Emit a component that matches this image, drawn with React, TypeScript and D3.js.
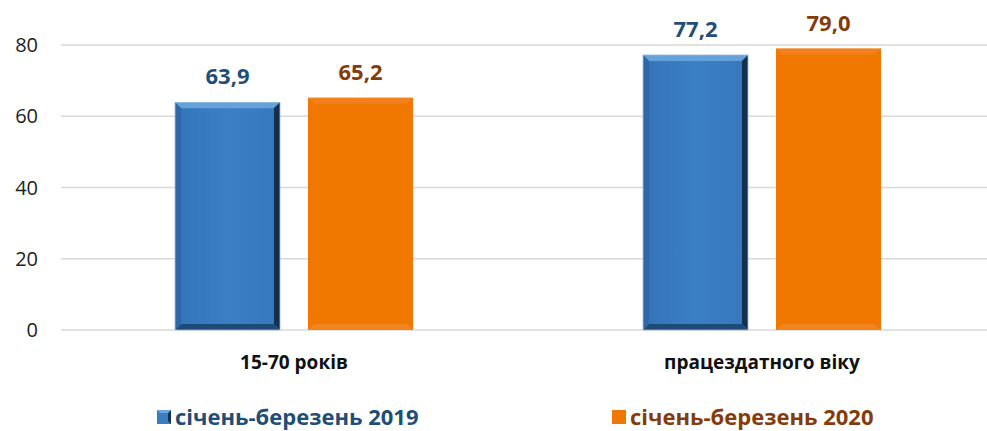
import React from "react";
import * as d3 from "d3";

const categories = ["15-70 років", "працездатного віку"];
const seriesNames = ["січень-березень 2019", "січень-березень 2020"];
const values2019 = [63.9, 77.2];
const values2020 = [65.2, 79.0];
const yTicks = [0, 20, 40, 60, 80];

const W = 987;
const H = 431;
const fills = ["#3A7DC1", "#F07800"];
const labelColors = ["#1F4E79", "#843C0C"];
const font = "'Open Sans', 'Noto Sans', sans-serif";

export default function App() {
  const x = d3.scaleBand<string>().domain(categories).range([60, 996]).paddingInner(0).paddingOuter(0);
  const inner = d3.scaleBand<string>().domain(seriesNames).range([0, x.bandwidth()]).paddingInner(0.2105).paddingOuter(0.865);
  const y = d3.scaleLinear().domain([0, 80]).range([330, 45]);
  const series = [values2019, values2020];
  const fmt = (v: number) => v.toFixed(1).replace(".", ",");
  const b = 6;

  return (
    <svg width={W} height={H} style={{ position: "absolute", left: 0, top: 0 }}>
      <defs>
        <linearGradient id="blueFace" x1="0" x2="1" y1="0" y2="0">
          <stop offset="0" stopColor="#3374B8" />
          <stop offset="0.5" stopColor="#3B7FC4" />
          <stop offset="1" stopColor="#3678BC" />
        </linearGradient>
      </defs>
      {yTicks.map((t) => (
        <g key={t}>
          <line x1={61} x2={W} y1={y(t)} y2={y(t)} stroke="#D9D9D9" strokeWidth={1.5} />
          <text x={38} y={y(t)} dy="0.35em" textAnchor="end" fontFamily={font} fontSize={20} fill="#222">
            {t}
          </text>
        </g>
      ))}
      {categories.map((c, ci) =>
        series.map((vals, si) => {
          const bx = (x(c) as number) + (inner(seriesNames[si]) as number);
          const bw = inner.bandwidth();
          const by = y(vals[ci]);
          const bh = y(0) - by;
          const isBlue = si === 0;
          return (
            <g key={c + si}>
              <rect x={bx} y={by} width={bw} height={bh} fill={isBlue ? "url(#blueFace)" : fills[1]} />
              {isBlue ? (
                <>
                  <polygon points={`${bx},${by} ${bx + bw},${by} ${bx + bw - b},${by + b} ${bx + b},${by + b}`} fill="#6AA6DE" opacity={0.9} />
                  <polygon points={`${bx + bw},${by} ${bx + bw},${by + bh} ${bx + bw - b},${by + bh - b} ${bx + bw - b},${by + b}`} fill="#14304F" />
                  <polygon points={`${bx},${by + bh} ${bx + bw},${by + bh} ${bx + bw - b},${by + bh - b} ${bx + b},${by + bh - b}`} fill="#1E4A77" />
                  <polygon points={`${bx},${by} ${bx + b},${by + b} ${bx + b},${by + bh - b} ${bx},${by + bh}`} fill="#2E68A6" />
                  <rect x={bx} y={by} width={bw} height={bh} fill="none" stroke="#9DBCDD" strokeWidth={0.8} />
                </>
              ) : (
                <>
                  <polygon points={`${bx},${by} ${bx + bw},${by} ${bx + bw - b},${by + b} ${bx + b},${by + b}`} fill="#F2852A" opacity={0.7} />
                  <polygon points={`${bx},${by + bh} ${bx + bw},${by + bh} ${bx + bw - b},${by + bh - b} ${bx + b},${by + bh - b}`} fill="#F4892A" opacity={0.7} />
                </>
              )}
              <text
                x={bx + bw / 2}
                y={by - 18}
                textAnchor="middle"
                fontFamily={font}
                fontWeight="bold"
                fontSize={22}
                fill={labelColors[si]}
              >
                {fmt(vals[ci])}
              </text>
            </g>
          );
        })
      )}
      {categories.map((c) => (
        <text
          key={c}
          x={(x(c) as number) + x.bandwidth() / 2}
          y={369}
          textAnchor="middle"
          fontFamily={font}
          fontWeight="bold"
          fontSize={19}
          fill="#111"
        >
          {c}
        </text>
      ))}
      {seriesNames.map((s, i) => {
        const lx = i === 0 ? 157 : 612;
        return (
          <g key={s}>
            {i === 0 ? (
              <>
                <rect x={lx} y={410} width={14} height={14} fill="#3A7DC1" />
                <polygon points={`${lx + 14},${410} ${lx + 14},${424} ${lx + 11},${421} ${lx + 11},${413}`} fill="#14304F" />
                <polygon points={`${lx},${410} ${lx + 14},${410} ${lx + 11},${413} ${lx + 3},${413}`} fill="#6AA6DE" />
              </>
            ) : (
              <rect x={lx} y={410} width={14} height={14} fill="#F07800" />
            )}
            <text x={lx + 18} y={425} fontFamily={font} fontWeight="bold" fontSize={22} fill={labelColors[i]}>
              {s}
            </text>
          </g>
        );
      })}
    </svg>
  );
}
